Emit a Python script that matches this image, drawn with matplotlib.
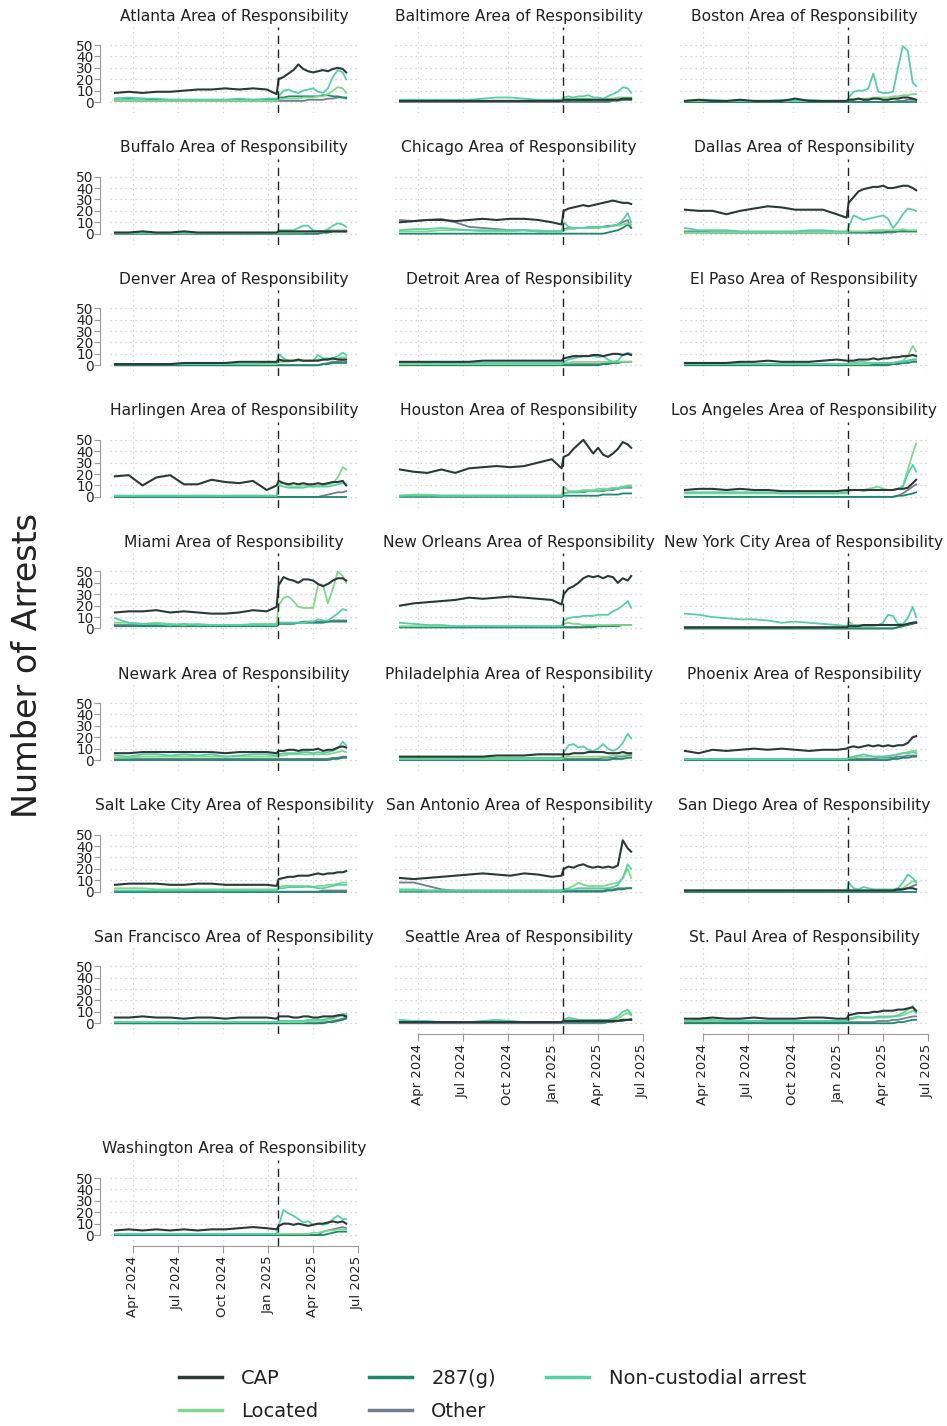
import matplotlib
matplotlib.use("Agg")
import matplotlib.pyplot as plt
import matplotlib.dates as mdates
from matplotlib.lines import Line2D
import pandas as pd

# sample dates: every 4 weeks before the Jan 20 2025 line, every 10 days after
dates = pd.to_datetime([
    "2024-02-25", "2024-03-24", "2024-04-21", "2024-05-19", "2024-06-16", "2024-07-14",
    "2024-08-11", "2024-09-08", "2024-10-06", "2024-11-03", "2024-12-01", "2024-12-29",
    "2025-01-18", "2025-01-22", "2025-02-01", "2025-02-11", "2025-02-21", "2025-03-03",
    "2025-03-13", "2025-03-23", "2025-04-02", "2025-04-12", "2025-04-22", "2025-05-02",
    "2025-05-12", "2025-05-22", "2025-06-01", "2025-06-08"])

series_names = ["CAP", "287(g)", "Non-custodial arrest", "Located", "Other"]

atlanta_cap = [8,9,8,9,9,10,11,11,12,11,12,11,7, 20,22,25,28,33,29,27,26,27,28,27,29,30,29,26]
atlanta_287g = [3,3,3,2,2,2,2,2,2,2,2,2,2, 4,4,5,5,5,5,5,5,5,6,6,5,5,4,4]
atlanta_nca = [3,4,3,3,2,2,2,2,2,3,2,3,3, 5,10,11,9,8,10,11,12,9,8,12,22,28,26,20]
atlanta_loc = [1,1,1,1,1,1,1,1,1,1,1,1,1, 2,3,3,3,3,4,4,4,5,5,7,10,13,12,8]
atlanta_oth = [1,1,1,1,1,1,1,1,1,1,1,1,1, 1,1,1,1,1,1,2,2,2,2,3,3,4,4,3]

baltimore_cap = [1,1,1,1,1,1,1,1,1,1,1,1,1, 2,2,2,2,2,2,2,2,2,2,2,2,3,3,3]
baltimore_287g = [1,1,1,1,1,1,1,1,1,1,1,1,1, 1,1,1,1,1,1,1,1,1,1,2,2,2,2,2]
baltimore_nca = [2,2,2,2,2,2,3,4,4,3,2,2,2, 4,5,4,5,5,6,4,4,3,5,7,9,13,12,8]
baltimore_loc = [1,1,1,1,1,1,1,1,1,1,1,1,1, 2,3,2,3,3,3,2,2,2,3,3,4,4,4,4]
baltimore_oth = [0,0,0,0,0,0,0,0,0,0,0,0,0, 0,0,0,0,0,0,0,0,0,0,1,1,2,2,2]

boston_cap = [1,2,1,1,2,1,1,1,3,1,1,1,1, 2,2,3,2,2,3,3,2,2,3,3,4,4,3,2]
boston_287g = [0,0,0,0,0,0,0,0,0,0,0,0,0, 0,0,0,0,0,0,0,0,0,0,0,0,0,0,0]
boston_nca = [1,2,2,1,1,1,1,2,1,2,1,1,1, 4,9,10,10,12,25,9,8,8,9,30,49,45,17,14]
boston_loc = [1,1,1,1,1,1,1,1,1,1,1,1,1, 2,3,3,3,3,4,4,4,4,5,5,6,6,7,7]
boston_oth = [0,0,0,0,0,0,0,0,0,0,0,0,0, 0,0,0,0,0,0,0,0,0,0,1,1,2,2,2]

buffalo_cap = [1,1,2,1,1,2,1,1,1,1,1,1,1, 2,2,2,2,2,2,2,2,2,2,2,2,2,2,2]
buffalo_287g = [0,0,0,0,0,0,0,0,0,0,0,0,0, 0,0,0,0,0,0,0,0,0,1,1,2,2,2,2]
buffalo_nca = [0.5,0.5,0.5,0.5,0.5,0.5,0.5,0.5,0.5,0.5,0.5,0.5,0.5, 3,3,3,3,5,7,7,3,2,2,4,7,9,8,6]
buffalo_loc = [0.5,0.5,0.5,0.5,0.5,0.5,0.5,0.5,0.5,0.5,0.5,0.5,0.5, 1,1,1,1,1,1,2,2,2,2,3,3,3,3,3]
buffalo_oth = [0,0,0,0,0,0,0,0,0,0,0,0,0, 0,0,0,0,0,0,0,0,0,1,1,2,2,2,2]

chicago_cap = [10,11,12,12,11,12,13,12,13,13,12,10,8, 20,22,23,24,25,24,25,26,27,28,29,28,27,27,26]
chicago_287g = [0,0,0,0,0,0,0,0,0,0,0,0,0, 0,0,0,0,0,0,0,0,0,1,2,3,5,8,5]
chicago_nca = [3,4,4,5,4,3,3,3,3,3,2,2,2, 10,6,5,5,5,6,6,6,6,6,7,8,12,18,10]
chicago_loc = [2,2,2,3,3,3,2,2,2,3,3,2,2, 3,4,4,5,5,5,5,5,6,6,7,7,8,9,8]
chicago_oth = [12,11,12,13,10,6,5,4,3,3,2,2,2, 4,5,5,5,5,5,5,5,6,7,7,8,10,12,5]

dallas_cap = [21,20,20,17,20,22,24,23,21,21,21,17,14, 27,32,37,39,40,41,41,42,40,40,41,42,42,40,38]
dallas_287g = [1,1,1,1,1,1,1,1,1,1,1,1,1, 1,1,1,1,1,1,1,1,2,2,2,2,2,2,2]
dallas_nca = [5,3,3,3,2,2,2,2,2,3,3,2,2, 6,16,14,12,13,14,15,16,13,5,10,17,22,21,20]
dallas_loc = [1,1,1,1,1,1,1,1,1,1,1,1,1, 2,2,2,2,2,3,3,3,3,3,3,4,3,3,3]
dallas_oth = [2,2,1,1,1,1,1,1,1,1,1,1,1, 1,1,1,1,1,1,1,1,1,1,2,2,2,2,2]

denver_cap = [1,1,1,1,1,2,2,2,2,3,3,3,3, 5,4,4,4,5,4,4,4,4,5,5,6,5,5,5]
denver_287g = [0,0,0,0,0,0,0,0,0,0,0,0,0, 0,0,0,0,0,0,0,0,0,1,1,2,2,2,2]
denver_nca = [1,1,1,1,1,1,1,1,1,1,1,2,2, 10,6,4,4,4,4,4,4,9,6,6,6,8,11,9]
denver_loc = [1,1,1,1,1,1,1,1,1,1,1,1,1, 3,3,3,4,4,4,4,4,5,5,5,5,6,7,7]
denver_oth = [0,0,0,0,0,0,0,0,0,0,0,0,0, 0,0,0,0,0,0,0,0,0,1,2,3,3,4,3]

detroit_cap = [3,3,3,3,3,3,4,4,4,4,4,4,4, 6,7,8,8,8,8,9,9,8,9,10,10,9,10,9]
detroit_287g = [0,0,0,0,0,0,0,0,0,0,0,0,0, 0,0,0,0,0,0,0,0,1,1,2,2,3,3,3]
detroit_nca = [2,3,2,2,2,2,2,2,2,2,2,2,2, 3,5,6,7,8,8,8,7,8,5,3,4,9,11,10]
detroit_loc = [1,1,1,1,1,1,1,1,1,1,1,1,1, 2,2,3,3,3,3,3,3,3,3,3,3,3,3,3]
detroit_oth = [1,1,1,1,1,1,1,1,1,1,1,1,1, 1,1,1,1,1,1,1,1,1,2,2,2,3,3,3]

elpaso_cap = [2,2,2,2,3,3,4,3,3,3,4,5,4, 4,4,5,5,5,6,5,6,6,7,7,8,8,9,8]
elpaso_287g = [0,0,0,0,0,0,0,0,0,0,0,0,0, 0,0,0,0,0,0,0,0,0,1,1,2,2,3,3]
elpaso_nca = [1,1,1,1,1,1,1,1,1,1,1,1,1, 2,2,3,3,2,2,2,2,2,2,3,3,4,5,5]
elpaso_loc = [1,1,1,1,1,1,1,1,1,1,1,1,1, 1,1,1,1,1,2,2,2,2,2,3,4,8,17,12]
elpaso_oth = [1,1,1,1,1,1,1,1,1,1,1,1,1, 1,1,1,1,1,1,1,1,1,2,2,3,4,5,5]

harlingen_cap = [18,19,10,17,19,11,11,15,13,12,14,6,10, 14,12,11,12,11,12,11,11,12,11,12,13,13,14,10]
harlingen_287g = [0,0,0,0,0,0,0,0,0,0,0,0,0, 0,0,0,0,0,0,0,0,0,0,0,0,0,0,0]
harlingen_nca = [1,1,1,1,1,1,1,1,1,1,1,1,1, 10,9,8,8,8,8,9,9,9,9,9,10,11,12,11]
harlingen_loc = [1,1,1,1,1,1,1,1,1,1,1,1,1, 11,12,10,9,9,10,10,9,10,10,11,12,17,26,24]
harlingen_oth = [0,0,0,0,0,0,0,0,0,0,0,0,0, 0,0,0,0,0,0,0,0,0,1,2,3,4,4,5]

houston_cap = [24,22,21,24,21,25,26,27,26,27,30,33,25, 35,37,42,46,50,44,38,43,37,35,38,42,48,46,43]
houston_287g = [0,0,0,0,0,0,0,0,0,0,0,0,0, 1,1,1,1,1,1,1,1,2,2,2,2,3,3,3]
houston_nca = [1,1,1,1,1,1,1,1,1,1,1,1,1, 3,4,4,4,5,5,5,5,6,6,7,7,8,9,9]
houston_loc = [1,2,2,1,1,1,1,1,1,1,1,1,1, 9,5,5,5,6,6,6,7,7,7,8,8,9,10,10]
houston_oth = [1,1,1,1,1,1,1,1,1,1,1,1,1, 3,4,4,4,4,5,5,5,5,6,6,7,8,8,8]

losangeles_cap = [6,7,7,6,7,6,6,5,5,5,5,5,6, 6,6,6,6,6,6,6,6,6,6,7,7,8,12,15]
losangeles_287g = [0,0,0,0,0,0,0,0,0,0,0,0,0, 0,0,0,0,0,0,0,0,0,0,1,1,2,3,4]
losangeles_nca = [4,4,4,4,4,4,4,3,3,3,3,3,4, 6,6,6,5,6,6,6,6,6,6,7,9,20,28,22]
losangeles_loc = [3,3,3,3,3,3,3,3,3,3,3,3,3, 5,6,6,6,7,8,9,7,6,6,7,9,24,38,47]
losangeles_oth = [0,0,0,0,0,0,0,0,0,0,0,0,0, 0,0,0,0,0,0,0,0,0,0,1,3,6,9,11]

miami_cap = [14,15,15,16,14,15,14,13,13,14,16,15,19, 38,45,43,42,40,43,43,42,39,37,39,42,44,44,42]
miami_287g = [2,2,2,2,2,2,2,2,2,2,2,2,2, 4,4,4,4,5,5,5,5,5,5,6,6,6,6,6]
miami_nca = [9,5,4,4,3,4,3,3,3,3,3,3,3, 5,5,5,5,5,5,6,6,8,7,7,10,13,17,16]
miami_loc = [5,5,4,5,4,3,4,3,3,3,4,4,4, 20,27,28,24,19,18,18,18,38,38,22,35,50,46,40]
miami_oth = [3,3,3,3,3,2,3,3,3,3,3,4,4, 5,5,5,5,5,6,6,6,6,6,6,7,7,7,7]

neworleans_cap = [20,22,23,24,25,27,26,27,28,27,26,25,21, 30,35,37,40,44,46,45,46,44,46,45,40,44,42,46]
neworleans_287g = [1,1,1,1,1,1,1,1,1,1,1,1,1, 1,1,1,1,1,1,1,2,2,2,2,2,3,3,3]
neworleans_nca = [5,4,3,3,2,2,2,2,2,2,2,2,2, 7,9,10,10,11,11,11,12,12,12,15,17,20,24,18]
neworleans_loc = [2,2,2,2,2,2,2,2,2,2,2,2,2, 4,5,4,4,3,3,3,3,3,3,3,3,3,3,3]
neworleans_oth = [1,1,1,1,1,1,1,1,1,1,1,1,1, 1,1,1,1,1,2,2,2,2,2,3,3,3,3,3]

newyork_cap = [1,1,1,1,1,1,1,1,1,1,1,1,1, 2,2,2,3,3,3,3,3,3,3,3,3,4,5,5]
newyork_287g = [0,0,0,0,0,0,0,0,0,0,0,0,0, 0,0,0,0,0,0,0,0,0,0,1,2,3,4,5]
newyork_nca = [13,12,10,9,8,8,7,5,6,5,4,3,2, 3,3,3,3,3,3,3,5,12,11,4,4,9,19,10]
newyork_loc = [1,1,1,1,1,1,1,1,1,1,1,1,1, 6,3,2,2,2,2,3,3,3,3,3,3,4,5,5]
newyork_oth = [0,0,0,0,0,0,0,0,0,0,0,0,0, 0,0,0,0,0,0,0,0,0,0,1,2,4,5,6]

newark_cap = [6,6,7,7,7,7,7,7,6,7,7,7,6, 8,8,9,9,8,9,9,9,10,8,9,9,11,12,11]
newark_287g = [0,0,0,0,0,0,0,0,0,0,0,0,0, 0,0,0,0,0,0,0,0,0,0,0,1,1,2,2]
newark_nca = [4,3,5,5,4,5,4,5,3,4,5,5,4, 5,6,6,6,6,7,7,6,7,6,7,8,10,16,13]
newark_loc = [2,2,3,3,3,3,3,3,3,3,3,3,3, 4,4,5,5,5,5,5,5,5,5,5,6,7,8,7]
newark_oth = [1,1,1,1,1,1,1,1,1,1,1,1,1, 1,1,1,1,1,1,1,1,1,1,1,2,2,3,3]

philadelphia_cap = [3,3,3,3,3,3,3,4,4,4,5,5,5, 5,5,6,6,6,7,7,7,7,6,6,6,7,6,6]
philadelphia_287g = [0,0,0,0,0,0,0,0,0,0,0,0,0, 0,0,0,0,0,0,0,0,0,0,1,1,1,2,2]
philadelphia_nca = [2,2,2,2,2,2,2,2,2,2,2,2,2, 6,13,14,11,12,9,8,10,14,10,8,10,15,23,19]
philadelphia_loc = [1,1,1,1,1,1,1,1,1,1,1,1,1, 2,3,3,3,3,3,3,3,3,3,4,4,4,5,5]
philadelphia_oth = [1,1,1,1,1,1,1,1,1,1,1,1,1, 1,1,1,1,1,1,1,1,2,2,2,3,3,4,4]

phoenix_cap = [8,6,9,8,9,10,9,10,9,8,9,9,10, 11,12,11,12,13,12,13,12,13,12,13,13,15,20,21]
phoenix_287g = [0,0,0,0,0,0,0,0,0,0,0,0,0, 0,0,0,0,0,0,0,0,0,1,1,2,2,3,3]
phoenix_nca = [1,1,1,1,1,1,1,1,1,1,1,1,1, 2,3,4,5,4,3,3,3,3,4,5,6,6,7,6]
phoenix_loc = [1,1,1,1,1,1,1,1,1,1,1,1,1, 2,2,3,3,3,3,3,3,4,4,5,6,7,8,8]
phoenix_oth = [1,1,1,1,1,1,1,1,1,1,1,1,1, 1,1,1,1,1,1,2,2,2,2,3,3,4,4,4]

saltlake_cap = [6,7,7,7,6,6,7,7,6,6,6,6,5, 11,12,13,13,14,14,14,15,16,15,16,16,17,17,18]
saltlake_287g = [0,0,0,0,0,0,0,0,0,0,0,0,0, 0,0,0,0,0,0,0,0,0,0,0,0,0,0,0]
saltlake_nca = [1,1,1,1,1,1,1,1,1,1,1,1,1, 3,3,4,4,4,4,5,4,3,3,4,5,6,6,6]
saltlake_loc = [3,3,3,2,2,2,2,2,2,2,2,2,2, 4,5,5,5,5,5,4,4,5,5,6,6,7,8,8]
saltlake_oth = [0,0,0,0,0,0,0,0,0,0,0,0,0, 0,0,0,0,0,0,0,0,0,1,1,1,1,1,1]

sanantonio_cap = [12,11,12,13,14,15,16,15,14,16,15,13,14, 20,22,21,23,24,22,21,22,21,22,21,23,45,38,35]
sanantonio_287g = [0,0,0,0,0,0,0,0,0,0,0,0,0, 0,0,0,0,0,0,0,0,0,1,1,2,2,3,3]
sanantonio_nca = [2,2,1,1,1,1,1,1,1,1,1,1,1, 2,2,2,3,3,3,3,3,3,3,4,6,12,24,20]
sanantonio_loc = [1,1,1,1,1,1,1,1,1,1,1,1,1, 2,3,5,8,6,5,5,5,5,6,7,8,12,20,12]
sanantonio_oth = [8,8,5,2,1,1,1,1,1,1,1,1,1, 1,1,1,1,1,1,1,1,1,2,2,3,3,3,3]

sandiego_cap = [1,1,1,1,1,1,1,1,1,1,1,1,1, 1,1,1,1,1,1,1,1,1,1,2,2,3,3,2]
sandiego_287g = [0,0,0,0,0,0,0,0,0,0,0,0,0, 0,0,0,0,0,0,0,0,0,0,0,0,0,0,0]
sandiego_nca = [1,1,1,1,1,1,1,1,1,1,1,1,1, 8,3,2,4,3,2,2,2,2,2,3,8,15,12,8]
sandiego_loc = [1,1,1,1,1,1,1,1,1,1,1,1,1, 1,1,1,1,1,1,1,1,1,1,2,3,6,9,9]
sandiego_oth = [0,0,0,0,0,0,0,0,0,0,0,0,0, 0,0,0,0,0,0,0,0,0,0,1,2,3,5,6]

sanfrancisco_cap = [5,5,6,5,5,4,5,5,4,5,5,5,4, 6,6,6,5,5,6,6,5,5,6,6,6,7,7,6]
sanfrancisco_287g = [0,0,0,0,0,0,0,0,0,0,0,0,0, 0,0,0,0,0,0,0,0,0,0,1,1,2,3,4]
sanfrancisco_nca = [1,1,1,1,1,1,1,1,1,1,1,1,1, 2,2,2,2,2,2,3,3,3,3,4,5,6,8,7]
sanfrancisco_loc = [1,1,1,1,1,1,1,1,1,1,1,1,1, 1,1,1,1,1,1,2,2,2,2,3,4,6,8,8]
sanfrancisco_oth = [0,0,0,0,0,0,0,0,0,0,0,0,0, 0,0,0,0,0,0,0,0,0,1,1,2,3,4,5]

seattle_cap = [1,1,1,1,1,1,1,1,1,1,1,1,1, 2,2,2,2,2,2,2,2,2,2,2,2,3,3,3]
seattle_287g = [1,1,1,1,1,1,1,1,1,1,1,1,1, 1,1,1,1,1,1,1,1,1,1,2,2,2,3,3]
seattle_nca = [3,2,2,1,1,1,2,3,2,1,1,1,1, 3,5,4,3,3,3,3,3,3,3,4,6,10,12,8]
seattle_loc = [1,1,1,1,1,1,1,1,1,1,1,1,1, 2,3,3,2,2,2,2,2,2,2,3,4,7,9,7]
seattle_oth = [0,0,0,0,0,0,0,0,0,0,0,0,0, 0,0,0,0,0,0,0,0,0,1,1,2,3,3,4]

stpaul_cap = [4,4,5,4,4,5,4,4,4,5,5,4,4, 7,8,9,9,9,10,10,11,11,11,12,12,13,14,11]
stpaul_287g = [0,0,0,0,0,0,0,0,0,0,0,0,0, 0,0,0,0,0,0,0,0,0,0,1,1,2,3,3]
stpaul_nca = [2,3,3,2,2,2,2,2,2,2,2,2,2, 4,5,6,5,5,5,6,6,6,6,7,9,12,15,9]
stpaul_loc = [2,2,2,2,2,2,2,2,2,2,2,2,2, 3,4,5,5,5,5,5,5,5,6,6,7,9,11,10]
stpaul_oth = [1,1,1,1,1,1,1,1,1,1,1,1,1, 1,1,1,1,1,1,2,2,2,3,3,4,5,6,6]

washington_cap = [4,5,4,5,4,5,4,5,5,6,7,6,5, 8,10,10,9,10,9,8,9,10,10,11,12,11,12,10]
washington_287g = [0,0,0,0,0,0,0,0,0,0,0,0,0, 0,0,0,0,0,0,0,0,0,0,1,2,3,3,3]
washington_nca = [1,1,1,1,1,1,1,1,1,1,1,1,1, 8,22,19,17,14,11,12,9,10,9,10,14,17,14,14]
washington_loc = [1,1,1,1,1,1,1,1,1,1,1,1,1, 1,1,1,1,1,1,1,2,2,3,4,4,5,5,5]
washington_oth = [0,0,0,0,0,0,0,0,0,0,0,0,0, 0,0,0,0,0,0,0,0,0,3,4,5,6,7,6]

panels = [
    ("Atlanta", atlanta_cap, atlanta_287g, atlanta_nca, atlanta_loc, atlanta_oth),
    ("Baltimore", baltimore_cap, baltimore_287g, baltimore_nca, baltimore_loc, baltimore_oth),
    ("Boston", boston_cap, boston_287g, boston_nca, boston_loc, boston_oth),
    ("Buffalo", buffalo_cap, buffalo_287g, buffalo_nca, buffalo_loc, buffalo_oth),
    ("Chicago", chicago_cap, chicago_287g, chicago_nca, chicago_loc, chicago_oth),
    ("Dallas", dallas_cap, dallas_287g, dallas_nca, dallas_loc, dallas_oth),
    ("Denver", denver_cap, denver_287g, denver_nca, denver_loc, denver_oth),
    ("Detroit", detroit_cap, detroit_287g, detroit_nca, detroit_loc, detroit_oth),
    ("El Paso", elpaso_cap, elpaso_287g, elpaso_nca, elpaso_loc, elpaso_oth),
    ("Harlingen", harlingen_cap, harlingen_287g, harlingen_nca, harlingen_loc, harlingen_oth),
    ("Houston", houston_cap, houston_287g, houston_nca, houston_loc, houston_oth),
    ("Los Angeles", losangeles_cap, losangeles_287g, losangeles_nca, losangeles_loc, losangeles_oth),
    ("Miami", miami_cap, miami_287g, miami_nca, miami_loc, miami_oth),
    ("New Orleans", neworleans_cap, neworleans_287g, neworleans_nca, neworleans_loc, neworleans_oth),
    ("New York City", newyork_cap, newyork_287g, newyork_nca, newyork_loc, newyork_oth),
    ("Newark", newark_cap, newark_287g, newark_nca, newark_loc, newark_oth),
    ("Philadelphia", philadelphia_cap, philadelphia_287g, philadelphia_nca, philadelphia_loc, philadelphia_oth),
    ("Phoenix", phoenix_cap, phoenix_287g, phoenix_nca, phoenix_loc, phoenix_oth),
    ("Salt Lake City", saltlake_cap, saltlake_287g, saltlake_nca, saltlake_loc, saltlake_oth),
    ("San Antonio", sanantonio_cap, sanantonio_287g, sanantonio_nca, sanantonio_loc, sanantonio_oth),
    ("San Diego", sandiego_cap, sandiego_287g, sandiego_nca, sandiego_loc, sandiego_oth),
    ("San Francisco", sanfrancisco_cap, sanfrancisco_287g, sanfrancisco_nca, sanfrancisco_loc, sanfrancisco_oth),
    ("Seattle", seattle_cap, seattle_287g, seattle_nca, seattle_loc, seattle_oth),
    ("St. Paul", stpaul_cap, stpaul_287g, stpaul_nca, stpaul_loc, stpaul_oth),
    ("Washington", washington_cap, washington_287g, washington_nca, washington_loc, washington_oth),
]

bad = [(p[0], series_names[j], len(v)) for p in panels for j, v in enumerate(p[1:])
       if len(v) != len(dates)]
if bad:
    raise ValueError(f"length mismatch: {bad}")

COLORS = {"CAP": "#2c3a37", "287(g)": "#1b8a6b", "Non-custodial arrest": "#55d0a6",
          "Located": "#80d88c", "Other": "#737e8e"}
DRAW_ORDER = ["Other", "287(g)", "Located", "Non-custodial arrest", "CAP"]
INK = "#222222"; GRIDC = "#c8c8c8"; AXC = "#9a9a9a"

plt.rcParams.update({"font.family": "DejaVu Sans", "text.color": INK})

W, H = 947, 1426
fig = plt.figure(figsize=(W / 100, H / 100), dpi=100)
fig.patch.set_facecolor("white")

COL_LEFT = [110, 395, 680]
AX_W, AX_H = 248, 86
XMIN, XMAX = pd.Timestamp("2024-02-15"), pd.Timestamp("2025-07-02")
CUT = pd.Timestamp("2025-01-20")
QTRS = pd.to_datetime(["2024-04-01", "2024-07-01", "2024-10-01", "2025-01-01",
                       "2025-04-01", "2025-07-01"])
bottom_of_col = {"Washington", "Seattle", "St. Paul"}

for i, (name, *vals) in enumerate(panels):
    if name == "Washington":
        col, top = 0, 1160
    else:
        col, top = i % 3, 27 + 131.6 * (i // 3)
    ax = fig.add_axes([COL_LEFT[col] / W, 1 - (top + AX_H) / H, AX_W / W, AX_H / H])
    ax.set_xlim(XMIN, XMAX)
    ax.set_ylim(-9.6, 65.8)
    for y in range(0, 51, 10):
        ax.axhline(y, color=GRIDC, lw=0.9, ls=(0, (1, 3)), zorder=0)
    for q in QTRS:
        ax.axvline(q, color=GRIDC, lw=0.9, ls=(0, (1, 3)), zorder=0)
    series = dict(zip(series_names, vals))
    for s in DRAW_ORDER:
        ax.plot(dates, series[s], color=COLORS[s], lw=1.5 if s == "CAP" else 1.3, zorder=3)
    ax.axvline(CUT, color="#222222", lw=1.0, ls=(0, (6, 4)), zorder=4)

    for sp in ("top", "right"):
        ax.spines[sp].set_visible(False)
    if col == 0:
        ax.spines["left"].set_position(("outward", 7))
        ax.spines["left"].set_bounds(0, 50)
        ax.spines["left"].set_color(AXC)
        ax.set_yticks(range(0, 51, 10))
        ax.tick_params(axis="y", length=4, color=AXC, labelsize=9.8, pad=1, labelcolor=INK)
    else:
        ax.spines["left"].set_visible(False)
        ax.set_yticks([])
    if name in bottom_of_col:
        ax.spines["bottom"].set_bounds(mdates.date2num(QTRS[0]), mdates.date2num(QTRS[-1]))
        ax.spines["bottom"].set_color(AXC)
        ax.set_xticks(QTRS)
        ax.set_xticklabels([d.strftime("%b %Y") for d in QTRS], rotation=90, fontsize=9.5)
        ax.tick_params(axis="x", length=5, color=AXC, pad=2, labelcolor=INK)
    else:
        ax.spines["bottom"].set_visible(False)
        ax.set_xticks([])
    ax.patch.set_alpha(0)
    fig.text((COL_LEFT[col] + AX_W / 2) / W, 1 - (top - 11) / H, f"{name} Area of Responsibility",
             ha="center", va="center", fontsize=11.2)

fig.text(28 / W, 1 - 665 / H, "Number of Arrests", rotation=90, ha="center", va="center",
         fontsize=24)

handles = [Line2D([], [], color=COLORS[s], lw=2.5) for s in
           ["CAP", "Located", "287(g)", "Other", "Non-custodial arrest"]]
labels = ["CAP", "Located", "287(g)", "Other", "Non-custodial arrest"]
fig.legend(handles, labels, ncol=3, frameon=False, fontsize=14, handlelength=2.2,
           handletextpad=1.0, columnspacing=2.6, labelspacing=0.75,
           loc="center", bbox_to_anchor=(0.52, 1 - 1395 / H))

fig.savefig("out.png", dpi=100, facecolor="white")
